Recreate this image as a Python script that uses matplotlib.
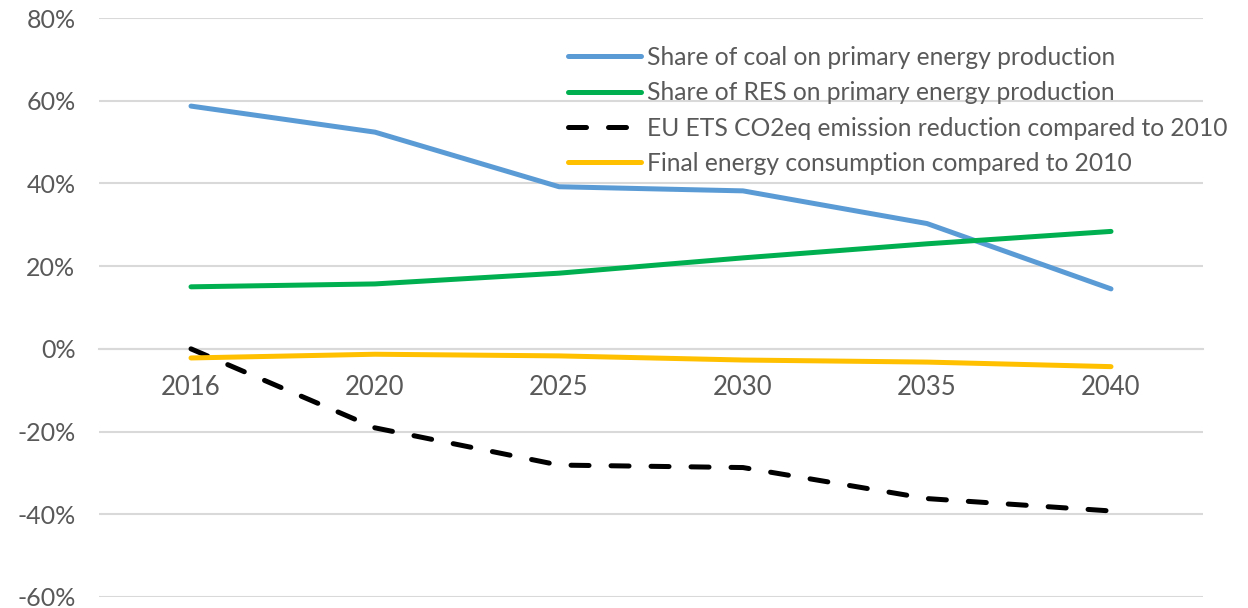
import matplotlib
matplotlib.use("Agg")
import matplotlib.pyplot as plt
from matplotlib.ticker import FuncFormatter

plt.rcParams['font.family'] = ['Lato', 'DejaVu Sans']

years = ['2016', '2020', '2025', '2030', '2035', '2040']
coal_share = [0.587, 0.524, 0.392, 0.382, 0.303, 0.145]
res_share = [0.150, 0.157, 0.183, 0.220, 0.254, 0.284]
ets_reduction = [0.000, -0.191, -0.281, -0.287, -0.362, -0.392]
final_energy = [-0.022, -0.013, -0.017, -0.027, -0.032, -0.043]

labels = ['Share of coal on primary energy production',
          'Share of RES on primary energy production',
          'EU ETS CO2eq emission reduction compared to 2010',
          'Final energy consumption compared to 2010']

text_col = '#595959'
grid_col = '#D9D9D9'

fig = plt.figure(figsize=(12.48, 6.08), dpi=100)
ax = fig.add_axes([99/1248, 1 - 597/608, (1203-99)/1248, (597-18)/608])

x = range(len(years))
lw = 3.6
ax.plot(x, coal_share, color='#5B9BD5', lw=lw, solid_capstyle='round', label=labels[0], zorder=3)
ax.plot(x, res_share, color='#00B050', lw=lw, solid_capstyle='round', label=labels[1], zorder=3)
ax.plot(x, ets_reduction, color='black', lw=lw, dashes=(3.6, 4.4), dash_capstyle='round',
        label=labels[2], zorder=3)
ax.plot(x, final_energy, color='#FFC000', lw=lw, solid_capstyle='round', label=labels[3], zorder=3)

ax.set_xlim(-0.5, len(years) - 0.5)
ax.set_ylim(-0.6, 0.8)
ax.set_yticks([-0.6, -0.4, -0.2, 0, 0.2, 0.4, 0.6, 0.8])
ax.yaxis.set_major_formatter(FuncFormatter(lambda v, p: '{:.0f}%'.format(v * 100)))
ax.set_xticks(list(x))
ax.set_xticklabels(years)

ax.grid(axis='y', color=grid_col, lw=1.5, zorder=0)
for s in ['top', 'left', 'right']:
    ax.spines[s].set_visible(False)
ax.spines['bottom'].set_position(('data', 0))
ax.spines['bottom'].set_color(grid_col)
ax.spines['bottom'].set_linewidth(1.5)
ax.tick_params(axis='both', length=0, colors=text_col)
ax.tick_params(axis='y', labelsize=18, pad=17)
ax.tick_params(axis='x', labelsize=18.5, pad=19)

leg = ax.legend(loc='upper left', bbox_to_anchor=(568/1248, 1 - 46/608), bbox_transform=fig.transFigure,
                frameon=False, fontsize=17.7, handlelength=2.97, handletextpad=0.25,
                labelspacing=0.5, borderaxespad=0, borderpad=0)
for t in leg.get_texts():
    t.set_color(text_col)

plt.savefig('out.png', dpi=100)
